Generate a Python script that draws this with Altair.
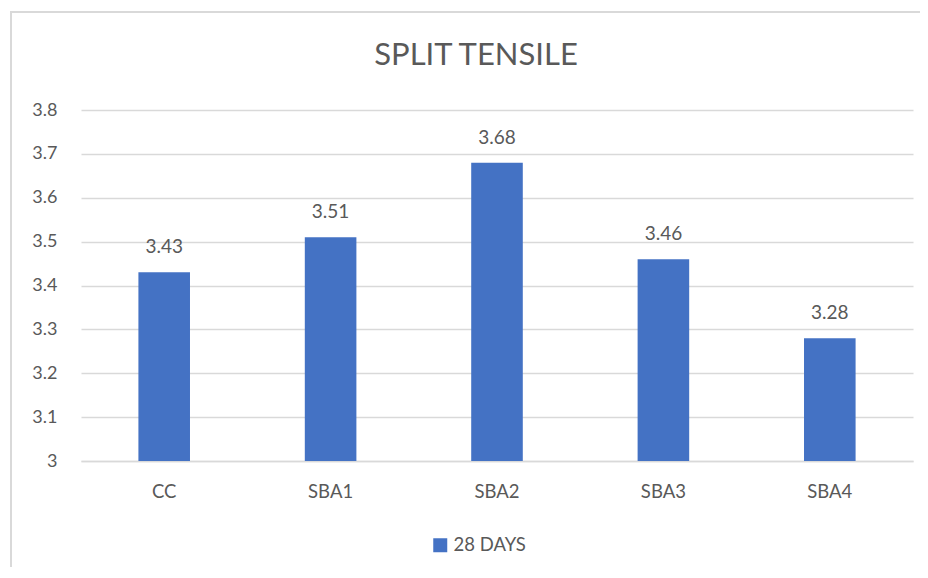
import altair as alt
import pandas as pd

categories = ["CC", "SBA1", "SBA2", "SBA3", "SBA4"]
values = [3.43, 3.51, 3.68, 3.46, 3.28]
series_name = "28 DAYS"
y_ticks = [3.0, 3.1, 3.2, 3.3, 3.4, 3.5, 3.6, 3.7, 3.8]
y_base = 3.0

df = pd.DataFrame({"cat": categories, "val": values, "series": [series_name] * len(categories)})

FONT = "Lato"
GREY = "#595959"
BLUE = "#4472C4"

W, H = 832, 351

base = alt.Chart(df).encode(
    x=alt.X("cat:N", sort=categories, title=None,
            scale=alt.Scale(paddingInner=0.69, paddingOuter=0.345),
            axis=alt.Axis(labelAngle=0, labelFont=FONT, labelFontSize=18.5, labelColor=GREY,
                          labelPadding=21, ticks=False, domain=True, domainColor="#d9d9d9",
                          domainWidth=1.5, grid=False, labelBaseline="top")),
)

bars = base.mark_bar(color=BLUE).encode(
    y=alt.Y("val:Q", title=None,
            scale=alt.Scale(domain=[3.0, 3.8], nice=False, zero=False),
            axis=alt.Axis(values=y_ticks, format="~g", labelFont=FONT, labelFontSize=18,
                          labelColor=GREY, labelPadding=24, ticks=False, domain=False,
                          grid=True, gridColor="#d9d9d9", gridWidth=1.5)),
    y2=alt.datum(y_base),
    color=alt.Color("series:N", scale=alt.Scale(range=[BLUE]),
                    legend=alt.Legend(title=None, orient="none", legendX=350, legendY=426,
                                      symbolType="square", symbolSize=196, symbolStrokeWidth=0,
                                      labelFont=FONT, labelFontSize=18.5, labelColor=GREY,
                                      labelOffset=4)),
)

labels = base.mark_text(font=FONT, fontSize=19, color=GREY, baseline="middle", dy=-25).encode(
    y=alt.Y("val:Q"),
    text=alt.Text("val:Q", format=".2f"),
)

border = alt.Chart(pd.DataFrame({"b": [0]})).mark_rect(
    fill=None, stroke="#d9d9d9", strokeWidth=2
).encode(
    x=alt.value(-70), x2=alt.value(W + 40), y=alt.value(-98), y2=alt.value(H + 200)
)

chart = alt.layer(border, bars, labels).properties(
    width=W, height=H,
    autosize=alt.AutoSizeParams(type="none"),
    padding={"left": 73, "top": 102, "right": 7, "bottom": 106},
    title=alt.TitleParams("SPLIT TENSILE", font=FONT, fontSize=31, fontWeight="normal",
                          color=GREY, anchor="middle", dx=-21, offset=0, dy=61),
).configure_view(stroke=None)

chart.save("out.html", embed_options={"renderer": "svg", "actions": False})
